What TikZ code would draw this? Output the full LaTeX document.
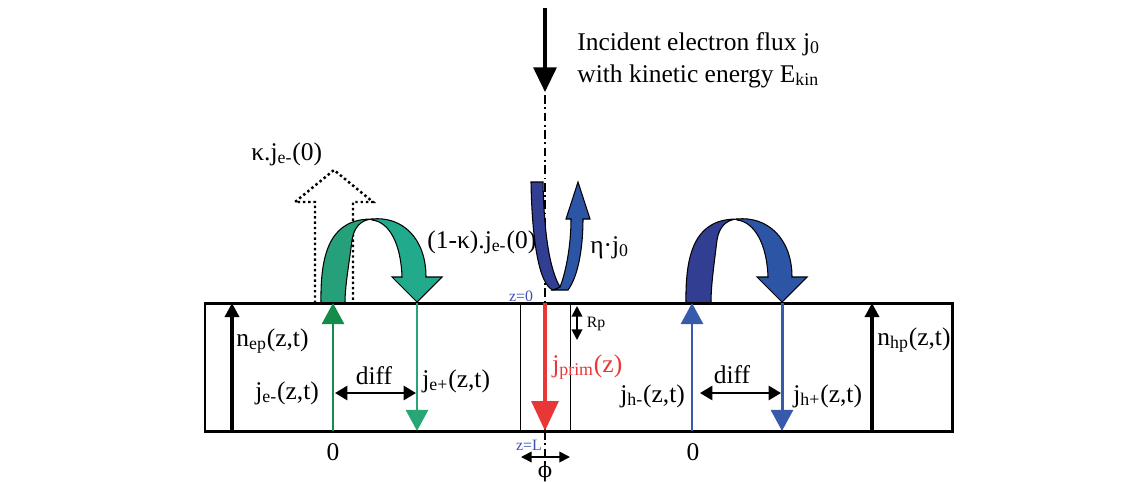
\documentclass[tikz,border=0pt]{standalone}
\usepackage{fontspec}
\setmainfont{Liberation Serif}
\newfontfamily\dvs{DejaVu Serif}
\usetikzlibrary{arrows.meta}
\definecolor{gdark}{RGB}{22,140,75}
\definecolor{glight}{RGB}{40,166,118}
\definecolor{garcA}{RGB}{38,160,122}
\definecolor{garcB}{RGB}{34,170,140}
\definecolor{bline}{RGB}{55,90,170}
\definecolor{barcA}{RGB}{50,62,145}
\definecolor{barcB}{RGB}{45,85,165}
\definecolor{redp}{RGB}{232,55,55}
\definecolor{zblue}{RGB}{60,80,180}
\begin{document}
\begin{tikzpicture}[x=0.02cm,y=-0.02cm,font=\fontsize{14.5}{16}\selectfont,
  lab/.style={inner sep=0pt,anchor=base west},
  labc/.style={inner sep=0pt,anchor=base},
  small/.style={inner sep=0pt,font=\fontsize{9}{10}\selectfont},
  boxline/.style={line width=1.7pt},
  bigarr/.style={line width=1.7pt,-{Triangle[length=12pt,width=12.5pt]}},
  blkarr/.style={line width=1.9pt,-{Triangle[length=8pt,width=8pt]}},
  diffarr/.style={line width=1.3pt,{Triangle[length=7pt,width=8pt]}-{Triangle[length=7pt,width=8pt]}},
  smallarr/.style={line width=1pt,{Triangle[length=6pt,width=6pt]}-{Triangle[length=6pt,width=6pt]}},
  ribbon/.style={draw=black,line width=0.6pt},
  dashdot/.style={line width=0.8pt,dash pattern=on 5pt off 2pt on 1pt off 2pt}]
\useasboundingbox (0,0) rectangle (1140,481);

% ---------- coordinates ----------
\coordinate (inTop) at (545,8);
\coordinate (inTip) at (545,92);
\coordinate (axTop) at (545,95);
\coordinate (z0) at (545,303);
\coordinate (zL) at (545,431);
\coordinate (axBot) at (545,466);

% incident flux
\draw[line width=1.9pt,-{Triangle[length=14pt,width=13pt]}] (inTop) -- (inTip);
\node[lab] (inc1) at (577,50) {Incident electron flux j\textsubscript{0}};
\node[lab] (inc2) at (577,82) {with kinetic energy E\textsubscript{kin}};
\draw[dashdot] (axTop) -- (z0);
\draw[dashdot] (zL) -- (axBot);

% dotted escape arrow
\draw[line width=1.4pt,dash pattern=on 1.4pt off 1.6pt]
  (315,303) -- (315,202) -- (295,202) -- (334,170) -- (373,202) -- (353,202) -- (353,303);
\node[lab] (kap) at (251,160) {κ.j\textsubscript{e-}(0)};

% green ribbon arrow
\filldraw[ribbon,fill=garcB] (372,219) .. controls (402,216) and (426,238) .. (426,277)
  -- (442,277) -- (417,302) -- (392,277) -- (402,277)
  .. controls (401,245) and (390,222) .. (372,220) -- cycle;
\filldraw[ribbon,fill=garcA] (321,303) .. controls (320,248) and (333,219) .. (372,219)
  .. controls (360,220) and (354,228) .. (352,240)
  .. controls (349,265) and (345,285) .. (345,303) -- cycle;
\node[lab] (onemk) at (427,248) {(1-κ).j\textsubscript{e-}(0)};

% blue U-turn arrow (backscatter)
\filldraw[ribbon,fill=barcB] (553,290) -- (568,290) .. controls (579,275) and (583,245) .. (583,219)
  -- (590,219) -- (578,182) -- (566,219) -- (571,219)
  .. controls (571,245) and (566,272) .. (560,287) -- cycle;
\filldraw[ribbon,fill=barcA] (531,182) -- (543,182) .. controls (544,235) and (550,270) .. (560,287)
  -- (553,290) .. controls (539,285) and (532,240) .. (531,182) -- cycle;
\node[lab] (eta) at (590,253) {η·j\textsubscript{0}};

% blue ribbon arrow (holes)
\filldraw[ribbon,fill=barcB] (737,219) .. controls (767,216) and (792,238) .. (792,277)
  -- (807,277) -- (782,302) -- (757,277) -- (768,277)
  .. controls (767,245) and (755,222) .. (737,220) -- cycle;
\filldraw[ribbon,fill=barcA] (686,303) .. controls (685,248) and (698,219) .. (737,219)
  .. controls (725,220) and (719,228) .. (717,240)
  .. controls (714,265) and (711,285) .. (711,303) -- cycle;

% ---------- sample box ----------
\draw[boxline,fill=white] (205,303) rectangle (952,431);
\node[inner sep=0pt] (box) at (578.5,367) {};
\draw[line width=0.5pt] (520,303) -- (520,431);
\draw[line width=0.5pt] (570.5,303) -- (570.5,431);
\draw[dashdot] (z0) -- (zL);

% primary beam
\draw[redp,line width=2.8pt,-{Triangle[length=17pt,width=15pt]}] (z0) -- (zL);
\node[lab,text=redp] (jprim) at (552,372) {j\textsubscript{prim}(z)};
\node[small,text=zblue] (lz0) at (521,296) {z=0};
\node[small,text=zblue] (lzL) at (529,445) {z=L};
\coordinate (rpT) at (577,306);
\coordinate (rpB) at (577,340);
\draw[smallarr] (rpT) -- (rpB);
\node[small] (rp) at (596,324) {Rp};
\coordinate (phL) at (521,457);
\coordinate (phR) at (570,457);
\draw[smallarr] (phL) -- (phR);
\node[inner sep=0pt,font=\dvs\fontsize{12}{14}\selectfont] (phi) at (545,472) {ϕ};

% electron side
\coordinate (nepB) at (232,431); \coordinate (nepT) at (232,303);
\draw[blkarr] (nepB) -- (nepT);
\node[lab] (nep) at (236,346) {n\textsubscript{ep}(z,t)};
\coordinate (jemB) at (333,431); \coordinate (jemT) at (333,303);
\draw[bigarr,gdark] (jemB) -- (jemT);
\coordinate (jepT) at (417,303); \coordinate (jepB) at (417,431);
\draw[bigarr,glight] (jepT) -- (jepB);
\node[lab] (jem) at (255,399) {j\textsubscript{e-}(z,t)};
\node[lab] (jep) at (422,387) {j\textsubscript{e+}(z,t)};
\coordinate (dLa) at (335,393); \coordinate (dLb) at (416,393);
\draw[diffarr] (dLa) -- (dLb);
\node[labc] (diffL) at (374,384) {diff};
\node[inner sep=0pt] (zeroL) at (333,452) {0};

% hole side
\coordinate (jhmB) at (692,431); \coordinate (jhmT) at (692,303);
\draw[bigarr,bline] (jhmB) -- (jhmT);
\coordinate (jhpT) at (782,303); \coordinate (jhpB) at (782,431);
\draw[bigarr,bline] (jhpT) -- (jhpB);
\node[lab] (jhm) at (620,402) {j\textsubscript{h-}(z,t)};
\node[lab] (jhp) at (793,402) {j\textsubscript{h+}(z,t)};
\coordinate (dRa) at (700,393); \coordinate (dRb) at (781,393);
\draw[diffarr] (dRa) -- (dRb);
\node[labc] (diffR) at (732,383) {diff};
\node[inner sep=0pt] (zeroR) at (693,452) {0};
\coordinate (nhpB) at (872,431); \coordinate (nhpT) at (872,303);
\draw[blkarr] (nhpB) -- (nhpT);
\node[lab] (nhp) at (877,345) {n\textsubscript{hp}(z,t)};
\end{tikzpicture}
\end{document}
